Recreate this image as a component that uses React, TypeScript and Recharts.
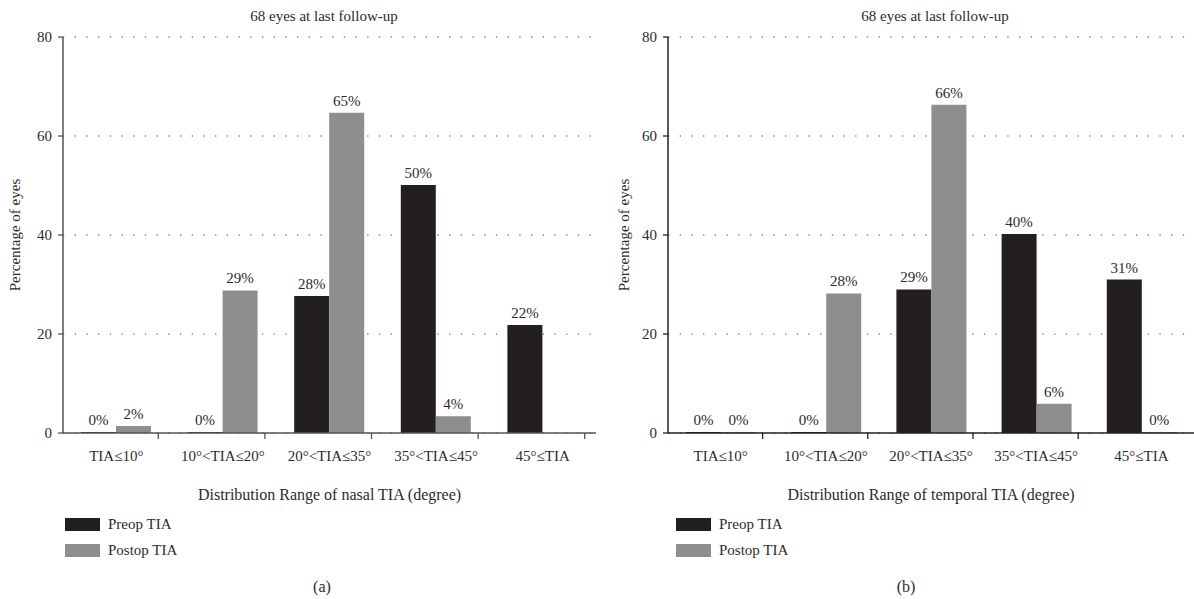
import React from 'react';
import {
  BarChart,
  Bar,
  XAxis,
  YAxis,
  CartesianGrid,
  LabelList
} from 'recharts';

const categories = ['TIA≤10°', '10°<TIA≤20°', '20°<TIA≤35°', '35°<TIA≤45°', '45°≤TIA'];

const nasalPreop = [0, 0, 27.7, 50.1, 21.8];
const nasalPostop = [1.4, 28.8, 64.7, 3.4, null];
const nasalPreopLabels = ['0%', '0%', '28%', '50%', '22%'];
const nasalPostopLabels = ['2%', '29%', '65%', '4%', null];

const temporalPreop = [0, 0, 29, 40.2, 31];
const temporalPostop = [0, 28.2, 66.3, 5.9, 0];
const temporalPreopLabels = ['0%', '0%', '29%', '40%', '31%'];
const temporalPostopLabels = ['0%', '28%', '66%', '6%', '0%'];

const series = [
  { name: 'Preop TIA', color: '#231f20' },
  { name: 'Postop TIA', color: '#8e8e8e' }
];

const yTicks = [0, 20, 40, 60, 80];

const FONT = '"Liberation Serif", "Times New Roman", serif';
const TEXT = '#2b2b2b';

function buildRows(pre: (number | null)[], post: (number | null)[], preL: (string | null)[], postL: (string | null)[]) {
  return categories.map((name, i) => ({
    name,
    preop: pre[i],
    postop: post[i],
    preopLabel: preL[i],
    postopLabel: postL[i]
  }));
}

const nasalData = buildRows(nasalPreop, nasalPostop, nasalPreopLabels, nasalPostopLabels);
const temporalData = buildRows(temporalPreop, temporalPostop, temporalPreopLabels, temporalPostopLabels);

interface PanelProps {
  data: any[];
  left: number;
  width: number;
  yAxisWidth: number;
  yLabelOffset: number;
  marginRight: number;
  xLabel: string;
  caption: string;
  captionCenter: number;
  titleCenter: number;
  legendLeft: number;
  axisColor: string;
  lastTick: boolean;
}

function Panel({ data, left, width, yAxisWidth, yLabelOffset, marginRight, xLabel, caption, captionCenter, titleCenter, legendLeft, axisColor, lastTick }: PanelProps) {
  const XTick = ({ x, y, payload, index }: any) => (
    <g>
      <text x={x} y={y} dy={28} textAnchor="middle" fontSize={15} fontFamily={FONT} fill={TEXT}>
        {payload.value}
      </text>
      {(index < 4 || lastTick) && (
        <line x1={x + 42} x2={x + 42} y1={y} y2={y + 6} stroke={axisColor} strokeWidth={1.3} />
      )}
    </g>
  );

  const labelStyle = { fontFamily: FONT, fontSize: 15, fill: TEXT };

  return (
    <div style={{ position: 'absolute', left, top: 0, width, height: 599 }}>
      <div
        style={{
          position: 'absolute',
          left: titleCenter - left - 150,
          width: 300,
          top: 8,
          textAlign: 'center',
          fontFamily: FONT,
          fontSize: 15,
          color: TEXT
        }}
      >
        68 eyes at last follow-up
      </div>
      <BarChart
        width={width}
        height={599}
        data={data}
        margin={{ top: 37, right: marginRight, left: 0, bottom: 96 }}
        barGap={0}
        barSize={35}
      >
        <CartesianGrid vertical={false} stroke="#444" strokeDasharray="1.3 10.4" />
        <XAxis
          dataKey="name"
          interval={0}
          height={70}
          tickLine={false}
          tickSize={0}
          tickMargin={0}
          axisLine={{ stroke: axisColor, strokeWidth: 1.5 }}
          tick={<XTick />}
          label={{ value: xLabel, position: 'insideBottom', offset: 3, style: { fontFamily: FONT, fontSize: 16, fill: TEXT } }}
        />
        <YAxis
          width={yAxisWidth}
          domain={[0, 80]}
          ticks={yTicks}
          tickSize={5}
          tickMargin={6}
          axisLine={{ stroke: axisColor, strokeWidth: 1.5 }}
          tickLine={{ stroke: axisColor, strokeWidth: 1.3 }}
          tick={{ fontFamily: FONT, fontSize: 15, fill: TEXT }}
          label={{
            value: 'Percentage of eyes',
            angle: -90,
            position: 'insideLeft',
            offset: yLabelOffset,
            style: { textAnchor: 'middle', fontFamily: FONT, fontSize: 15, fill: TEXT }
          }}
        />
        <Bar dataKey="preop" name={series[0].name} fill={series[0].color} minPointSize={1} isAnimationActive={false}>
          <LabelList dataKey="preopLabel" position="top" offset={7} style={labelStyle} />
        </Bar>
        <Bar dataKey="postop" name={series[1].name} fill={series[1].color} minPointSize={1} isAnimationActive={false}>
          <LabelList dataKey="postopLabel" position="top" offset={7} style={labelStyle} />
        </Bar>
      </BarChart>
      <div style={{ position: 'absolute', left: legendLeft - left, top: 511, fontFamily: FONT, fontSize: 15, color: TEXT }}>
        {series.map((s) => (
          <div key={s.name} style={{ display: 'flex', alignItems: 'center', height: 26 }}>
            <span style={{ display: 'inline-block', width: 35, height: 13, background: s.color, marginRight: 8 }} />
            <span>{s.name}</span>
          </div>
        ))}
      </div>
      <div
        style={{
          position: 'absolute',
          left: captionCenter - left - 30,
          width: 60,
          top: 578,
          textAlign: 'center',
          fontFamily: FONT,
          fontSize: 16,
          color: TEXT
        }}
      >
        {caption}
      </div>
    </div>
  );
}

export default function App() {
  return (
    <div style={{ position: 'absolute', left: 0, top: 0, width: 1194, height: 599, background: '#fff', overflow: 'hidden' }}>
      <Panel
        data={nasalData}
        left={0}
        width={600}
        yAxisWidth={63}
        yLabelOffset={15}
        marginRight={4}
        xLabel="Distribution Range of nasal TIA (degree)"
        caption="(a)"
        captionCenter={322}
        titleCenter={324}
        legendLeft={65}
        axisColor="#555"
        lastTick={true}
      />
      <Panel
        data={temporalData}
        left={600}
        width={594}
        yAxisWidth={68}
        yLabelOffset={24}
        marginRight={0}
        xLabel="Distribution Range of temporal TIA (degree)"
        caption="(b)"
        captionCenter={906}
        titleCenter={935}
        legendLeft={676}
        axisColor="#222"
        lastTick={false}
      />
    </div>
  );
}
